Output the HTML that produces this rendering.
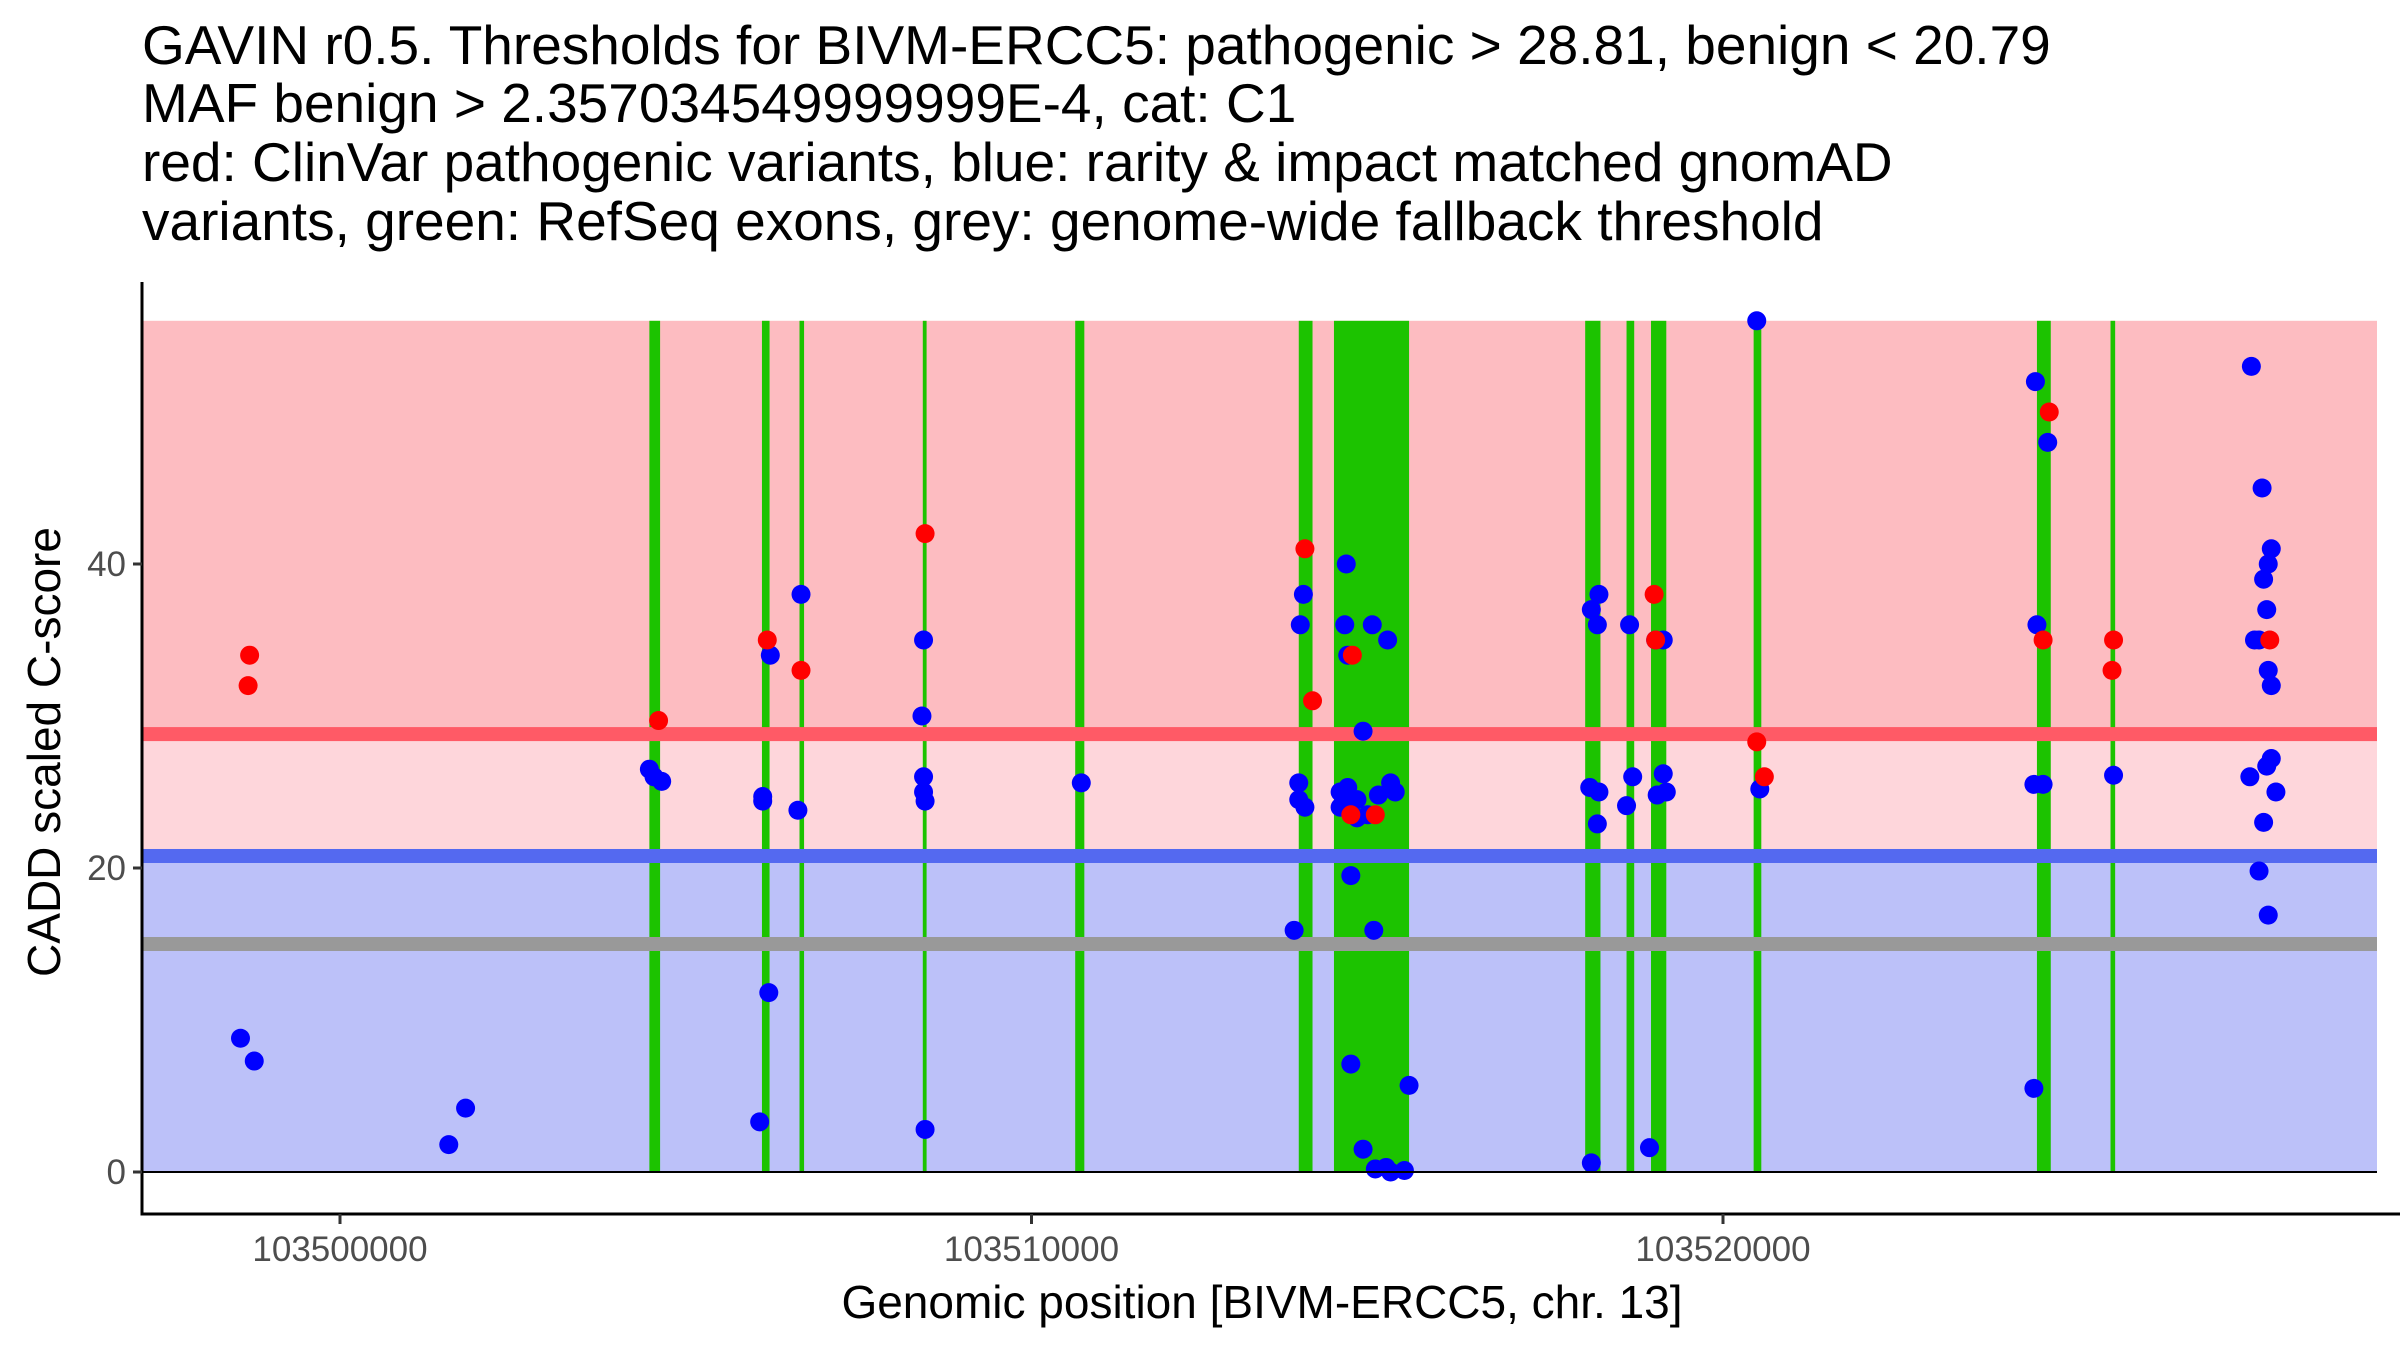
<!DOCTYPE html>
<html><head><meta charset="utf-8"><style>
html,body{margin:0;padding:0;background:#fff;}
svg{display:block;font-family:"Liberation Sans",Arial,sans-serif;}
</style></head><body>
<svg id="chart" width="2400" height="1350" viewBox="0 0 2400 1350">
<g font-size="55" fill="#000">
<text x="142" y="64">GAVIN r0.5. Thresholds for BIVM-ERCC5: pathogenic &gt; 28.81, benign &lt; 20.79</text>
<text x="142" y="122">MAF benign &gt; 2.357034549999999E-4, cat: C1</text>
<text x="142" y="181">red: ClinVar pathogenic variants, blue: rarity &amp; impact matched gnomAD</text>
<text x="142" y="240">variants, green: RefSeq exons, grey: genome-wide fallback threshold</text>
</g>
<g id="bands"></g>
<g id="exons"></g>
<g id="lines"></g>
<g id="points"></g>
<g id="axes"></g>
<text x="1262" y="1318" font-size="46" text-anchor="middle">Genomic position [BIVM-ERCC5, chr. 13]</text>
<text transform="translate(60,752) rotate(-90)" font-size="46" text-anchor="middle">CADD scaled C-score</text>
</svg>
<script>
const pathogenicThreshold = 28.81;
const benignThreshold = 20.79;
const fallbackThreshold = 15;
const bandTop = 56;
const yTicks = [0, 20, 40];
const xTicks = [103500000, 103510000, 103520000];
const exonStarts = [103504474,103506102,103506645,103508428,103510632,103513865,103514374,103518007,103518605,103518959,103520443,103524540,103525604];
const exonEnds   = [103504629,103506212,103506711,103508483,103510764,103514064,103515460,103518228,103518716,103519180,103520554,103524740,103525671];
const benignPos = [103498561,103498760,103501573,103501816,103504474,103504541,103504652,103506113,103506113,103506223,103506201,103506069,103506622,103506667,103508439,103508416,103508439,103508439,103508461,103508461,103510720,103513932,103513887,103513865,103513865,103513954,103513798,103514552,103514530,103514928,103515150,103514573,103514795,103514618,103514950,103514618,103514795,103515460,103514972,103515128,103515193,103515393,103514463,103514573,103514463,103514707,103514862,103515017,103515193,103515260,103514707,103514640,103518096,103518206,103518183,103518649,103518694,103518605,103518073,103518206,103518183,103518096,103518937,103519026,103519136,103519136,103519180,103519048,103520488,103520532,103524518,103524696,103524540,103524496,103524629,103524496,103525648,103527641,103527796,103527929,103527885,103527818,103527863,103527686,103527752,103527885,103527929,103527619,103527929,103527863,103527996,103527818,103527752,103527885];
const benignScore = [8.8,7.3,1.8,4.2,26.5,26,25.7,24.7,24.4,34,11.8,3.3,23.8,38,35,30,26,25,24.4,2.8,25.6,38,36,25.6,24.5,24,15.9,40,36,36,35,34,29,19.5,15.9,7.1,1.5,5.7,0.2,0.3,0,0.1,25,25.3,24,24.5,23.5,24.8,25.6,25,23.3,24.5,37,38,36,36,26,24.1,25.3,25,22.9,0.6,1.6,35,35,26.2,25,24.8,56,25.2,52,48,36,25.5,25.5,5.5,26.1,53,45,41,40,39,37,35,35,33,32,26,27.2,26.7,25,23,19.8,16.9];
const pathoPos = [103498693,103498671,103504607,103506179,103506667,103508461,103513954,103514064,103514640,103514618,103514972,103519004,103519026,103520488,103520598,103524718,103524629,103525648,103525626,103527907];
const pathoScore = [34,32,29.7,35,33,42,41,31,34,23.5,23.5,38,35,28.3,26,50,35,35,33,35];

const NS='http://www.w3.org/2000/svg';
const L=142,R=2377,T=282,B=1214;
function X(p){return 340+(p-103500000)/10000*691.5;}
function Y(v){return 1172-v*15.2;}
function mk(parent,tag,attrs){const e=document.createElementNS(NS,tag);for(const k in attrs)e.setAttribute(k,attrs[k]);parent.appendChild(e);return e;}
const bands=document.getElementById('bands');
let e;
e=mk(bands,'rect',{x:L,y:Y(bandTop),width:R-L,height:Y(pathogenicThreshold)-Y(bandTop),fill:'#fdbcc1'});


e=mk(bands,'rect',{x:L,y:Y(pathogenicThreshold),width:R-L,height:Y(benignThreshold)-Y(pathogenicThreshold),fill:'#fed6db'});


e=mk(bands,'rect',{x:L,y:Y(benignThreshold),width:R-L,height:Y(0)-Y(benignThreshold),fill:'#bcc1f9'});


const ex=document.getElementById('exons');
for(let i=0;i<exonStarts.length;i++){
  e=mk(ex,'rect',{x:X(exonStarts[i]),y:Y(bandTop),width:Math.max(3,X(exonEnds[i])-X(exonStarts[i])),height:Y(0)-Y(bandTop),fill:'#1cc300'});
  
  
}
const ln=document.getElementById('lines');
e=mk(ln,'rect',{x:L,y:Y(pathogenicThreshold)-7,width:R-L,height:14,fill:'#ff5a66'});


e=mk(ln,'rect',{x:L,y:Y(benignThreshold)-7,width:R-L,height:14,fill:'#5469f0'});


e=mk(ln,'rect',{x:L,y:Y(fallbackThreshold)-7,width:R-L,height:14,fill:'#999999'});


const pts=document.getElementById('points');
for(let i=0;i<benignPos.length;i++){
  e=mk(pts,'circle',{cx:X(benignPos[i]),cy:Y(benignScore[i]),r:9.5,fill:'#0000ff'});
  
  
}
for(let i=0;i<pathoPos.length;i++){
  e=mk(pts,'circle',{cx:X(pathoPos[i]),cy:Y(pathoScore[i]),r:9.5,fill:'#ff0000'});
  
  
}
const ax=document.getElementById('axes');
e=mk(ax,'line',{x1:L,y1:T,x2:L,y2:B+1.5,stroke:'#000','stroke-width':3});


e=mk(ax,'line',{x1:L-1.5,y1:B,x2:2400,y2:B,stroke:'#000','stroke-width':3});


e=mk(ax,'line',{x1:L,y1:Y(0),x2:R,y2:Y(0),stroke:'#000','stroke-width':2});


for(const v of yTicks){
  e=mk(ax,'line',{x1:L-9,y1:Y(v),x2:L,y2:Y(v),stroke:'#333','stroke-width':3});
  
  
  e=mk(ax,'text',{x:L-16,y:Y(v)+12,'font-size':35,'text-anchor':'end',fill:'#4d4d4d'});
  e.textContent=v;
  
  
}
for(const p of xTicks){
  e=mk(ax,'line',{x1:X(p),y1:B,x2:X(p),y2:B+10,stroke:'#333','stroke-width':3});
  
  
  e=mk(ax,'text',{x:X(p),y:1261,'font-size':35,'text-anchor':'middle',fill:'#4d4d4d'});
  e.textContent=p;
  
  
}
</script>
</body></html>
